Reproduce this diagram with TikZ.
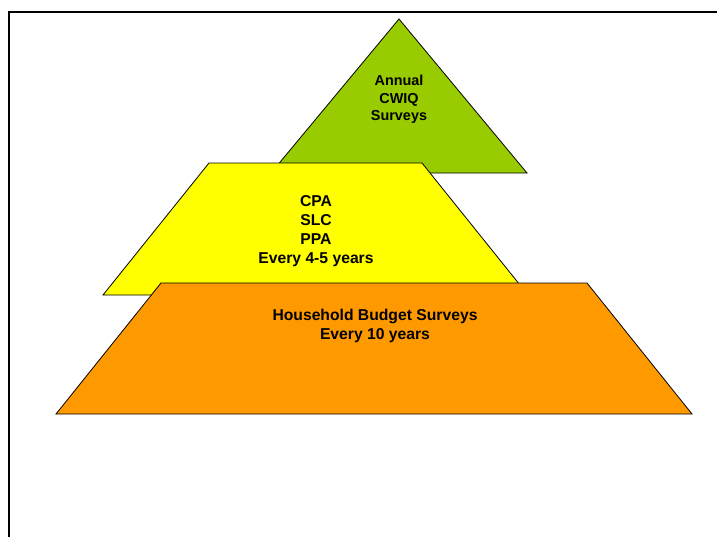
\documentclass[tikz,border=0pt]{standalone}
\usepackage{fontspec}
\setmainfont{Liberation Sans}
\definecolor{levgreen}{HTML}{99CC00}
\definecolor{levyellow}{HTML}{FFFF00}
\definecolor{levorange}{HTML}{FF9900}
\begin{document}
\begin{tikzpicture}[x=1pt,y=-1pt,
  level/.style={draw=black,line width=0.8pt,line join=miter},
  bigtxt/.style={font=\fontsize{15.7}{19}\selectfont\bfseries,anchor=base,inner sep=0pt},
  smalltxt/.style={font=\fontsize{14.4}{17.5}\selectfont\bfseries,anchor=base,inner sep=0pt},
  frameline/.style={draw=black,line width=2pt}]
\useasboundingbox (0,0) rectangle (717,536);
% frame
\draw[frameline] (9,540) -- (9,12) -- (720,12);
% green triangle
\path[level,fill=levgreen] (399,19) -- (527,173) -- (271,173) -- cycle;
% yellow trapezoid
\path[level,fill=levyellow] (209,163) -- (422,163) -- (528,295) -- (103,295) -- cycle;
% orange trapezoid
\path[level,fill=levorange] (161,283) -- (587,283) -- (692,414) -- (56,414) -- cycle;
% texts
\node[smalltxt] (g1) at (399,85) {Annual};
\node[smalltxt] (g2) at (399,103) {CWIQ};
\node[smalltxt] (g3) at (399,120) {Surveys};
\node[bigtxt] (y1) at (316,206) {CPA};
\node[bigtxt] (y2) at (316,225) {SLC};
\node[bigtxt] (y3) at (316,244) {PPA};
\node[bigtxt] (y4) at (316,263) {Every 4-5 years};
\node[bigtxt] (o1) at (375,320) {Household Budget Surveys};
\node[bigtxt] (o2) at (375,339) {Every 10 years};
\end{tikzpicture}
\end{document}
